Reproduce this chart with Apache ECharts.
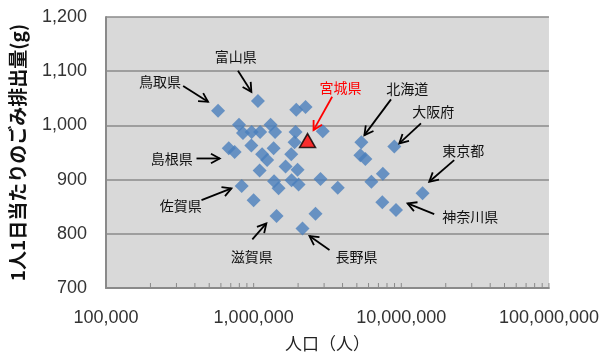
<!DOCTYPE html>
<html><head><meta charset="utf-8">
<script src="https://cdn.jsdelivr.net/npm/echarts@6/dist/echarts.min.js"></script>
<style>html,body{margin:0;padding:0;background:#fff}#c{width:602px;height:358px}</style>
</head><body><div id="c"></div>
<script>
// Prefecture population (x) and per-capita daily garbage (y, g)
const population = [574000,1069000,1943000,2246000,795700,846600,969400,1106000,1303000,1397000,1922000,1892000,2939000,678000,743600,965000,1141000,1234000,1365000,1098000,1645000,1797000,1983000,2014000,1375000,1475000,1806000,2836000,3712000,829600,1000000,1430000,2624000,2143000,5366000,5284000,5712000,8970000,6270000,7499000,7440000,9210000,13930000];
const garbage = [1027,1045,1029,1034,1001,986,988,988,1001,988,988,969,989,958,951,963,947,936,958,917,924,947,918,891,897,884,899,901,885,888,862,833,837,810,969,945,938,961,896,911,858,844,875];
const miyagiPop = [2317000];
const miyagiVal = [972];

const yTicks = [700,800,900,1000,1100,1200];
const xTicks = [100000,1000000,10000000,100000000];

// annotations (data space)
const labelText = ['鳥取県','富山県','宮城県','北海道','大阪府','東京都','神奈川県','長野県','滋賀県','佐賀県','島根県'];
const labelPop = [231700,755400,3870000,10980000,16450000,26240000,29260000,4965000,969400,321300,279200];
const labelVal = [1080,1126,1069,1067,1025,953,831,758,757,851,938];
const arrowFromPop = [333000,783000,3402000,8520000,13590000,22810000,16710000,3263000,980000,443400,410100];
const arrowFromVal = [1072.5,1100.7,1052.8,1048,1003.7,936,836.3,770,789.7,862,939];
const arrowToPop = [491000,965000,2544000,5623000,9694000,15460000,11030000,2390000,1219000,706800,589300];
const arrowToVal = [1043.5,1062,991.3,982,966.8,896,856,795.8,819.2,883.8,939];

function comma(v){return String(Math.round(v)).replace(/\B(?=(\d{3})+(?!\d))/g, ',');}

const minorTicks = [];
[100000,1000000,10000000].forEach(d=>{for(let k=1;k<10;k++) minorTicks.push([d*k]);});
minorTicks.push([100000000]);

const chart = echarts.init(document.getElementById('c'));
const gridColor = '#8a8a8a';
chart.setOption({
  animation:false,
  backgroundColor:'#fff',
  grid:{left:106,right:52,top:17,bottom:70,show:true,backgroundColor:'#d9d9d9',borderWidth:0},
  xAxis:{
    type:'log', logBase:10, min:xTicks[0], max:xTicks[xTicks.length-1],
    name:'人口（人）', nameLocation:'middle', nameGap:47,
    nameTextStyle:{fontFamily:'Noto Sans CJK JP',fontSize:17,color:'#222'},
    axisLine:{lineStyle:{color:gridColor,width:2}},
    axisTick:{show:false}, splitLine:{show:false},
    axisLabel:{formatter:comma,margin:21,fontFamily:'Liberation Sans',fontSize:18,color:'#333'}
  },
  yAxis:{
    type:'value', min:yTicks[0], max:yTicks[yTicks.length-1], interval:100,
    name:'1人1日当たりのごみ排出量(g)', nameLocation:'middle', nameRotate:90, nameGap:79,
    nameTextStyle:{fontFamily:'Noto Sans CJK JP',fontSize:19,fontWeight:'bold',color:'#111'},
    axisLine:{show:true,lineStyle:{color:gridColor,width:2}},
    axisTick:{show:false},
    splitLine:{lineStyle:{color:gridColor,width:1.5}},
    axisLabel:{formatter:comma,margin:19,fontFamily:'Liberation Sans',fontSize:18,color:'#333'}
  },
  series:[
    {
      type:'custom', silent:true, z:3,
      data:minorTicks,
      encode:{x:0},
      renderItem:function(params,api){
        const p = api.coord([api.value(0), yTicks[0]]);
        return {type:'line',shape:{x1:p[0],y1:p[1]-1,x2:p[0],y2:p[1]-5},style:{stroke:gridColor,lineWidth:1}};
      }
    },
    {
      type:'scatter', symbol:'diamond', symbolSize:14, z:4,
      itemStyle:{color:'#4a7ebb'},
      data:population.map((p,i)=>[p,garbage[i]])
    },
    {
      type:'scatter', symbol:'triangle', symbolSize:[16,14], z:5,
      itemStyle:{color:'#ff0000',borderColor:'#000',borderWidth:1.5},
      data:miyagiPop.map((p,i)=>[p,miyagiVal[i]])
    },
    {
      type:'custom', silent:true, z:6,
      data:arrowFromPop.map((p,i)=>[p,arrowFromVal[i],arrowToPop[i],arrowToVal[i],i]),
      encode:{x:[0,2],y:[1,3]},
      renderItem:function(params,api){
        const a = api.coord([api.value(0),api.value(1)]);
        const b = api.coord([api.value(2),api.value(3)]);
        const idx = api.value(4);
        const col = labelText[idx]==='宮城県' ? '#ff0000' : '#000';
        const ang = Math.atan2(b[1]-a[1], b[0]-a[0]);
        const L = 10, w = 0.5;
        const h1 = [b[0]-L*Math.cos(ang-w), b[1]-L*Math.sin(ang-w)];
        const h2 = [b[0]-L*Math.cos(ang+w), b[1]-L*Math.sin(ang+w)];
        return {type:'group',children:[
          {type:'line',shape:{x1:a[0],y1:a[1],x2:b[0],y2:b[1]},style:{stroke:col,lineWidth:1.8}},
          {type:'polyline',shape:{points:[h1,b,h2]},style:{stroke:col,lineWidth:1.8,fill:null}}
        ]};
      }
    },
    {
      type:'custom', silent:true, z:7,
      data:labelPop.map((p,i)=>[p,labelVal[i],i]),
      encode:{x:0,y:1},
      renderItem:function(params,api){
        const p = api.coord([api.value(0),api.value(1)]);
        const idx = api.value(2);
        return {type:'text',x:p[0],y:p[1],style:{text:labelText[idx],fill:labelText[idx]==='宮城県'?'#ff0000':'#111',
          font:'14px "Noto Sans CJK JP"',align:'center',verticalAlign:'middle'}};
      }
    }
  ]
});
</script></body></html>
